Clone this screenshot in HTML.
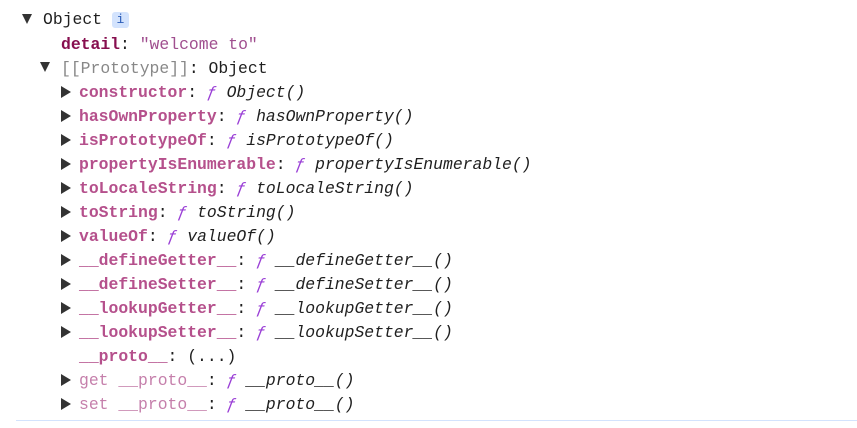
<!DOCTYPE html>
<html><head><style>
body{margin:0;width:857px;height:427px;background:#fff;overflow:hidden;font-family:"Liberation Mono",monospace;font-size:16.4px;color:#1f1f1f}
.w{position:absolute;left:0;top:1px;width:857px;height:427px}
.r{position:absolute;height:24px;line-height:24px;white-space:pre}
.t{position:absolute;width:0;height:0;border-left:5.5px solid transparent;border-right:5.5px solid transparent;border-top:10px solid #333}
.tr{position:absolute;width:0;height:0;border-top:6px solid transparent;border-bottom:6px solid transparent;border-left:10px solid #333}
.k{color:#b5508c;font-weight:bold}
.kd{color:#870f4f;font-weight:bold}
.g{color:#c57fab}
.f{color:#9a3fd6;font-style:italic}
.i{font-style:italic}
.s{color:#a04f8f}
.p{color:#888}
</style></head><body><div class="w">
<div class="t" style="left:22px;top:13px"></div>
<div class="r" style="left:43px;top:7px">Object <span style="display:inline-block;width:17px;height:16px;background:#d3e3fd;border-radius:3px;color:#2a5cb8;font-size:13px;line-height:16px;text-align:center;vertical-align:1px">i</span></div>
<div class="r" style="left:61px;top:32px"><span class="kd">detail</span>: <span class="s">"welcome to"</span></div>
<div class="t" style="left:40px;top:61px"></div>
<div class="r" style="left:61px;top:56px"><span class="p">[[Prototype]]</span>: Object</div>

<div class="tr" style="left:61px;top:85px"></div><div class="r" style="left:79px;top:80px"><span class="k">constructor</span>: <span class="f">ƒ</span> <span class="i">Object()</span></div>
<div class="tr" style="left:61px;top:109px"></div><div class="r" style="left:79px;top:104px"><span class="k">hasOwnProperty</span>: <span class="f">ƒ</span> <span class="i">hasOwnProperty()</span></div>
<div class="tr" style="left:61px;top:133px"></div><div class="r" style="left:79px;top:128px"><span class="k">isPrototypeOf</span>: <span class="f">ƒ</span> <span class="i">isPrototypeOf()</span></div>
<div class="tr" style="left:61px;top:157px"></div><div class="r" style="left:79px;top:152px"><span class="k">propertyIsEnumerable</span>: <span class="f">ƒ</span> <span class="i">propertyIsEnumerable()</span></div>
<div class="tr" style="left:61px;top:181px"></div><div class="r" style="left:79px;top:176px"><span class="k">toLocaleString</span>: <span class="f">ƒ</span> <span class="i">toLocaleString()</span></div>
<div class="tr" style="left:61px;top:205px"></div><div class="r" style="left:79px;top:200px"><span class="k">toString</span>: <span class="f">ƒ</span> <span class="i">toString()</span></div>
<div class="tr" style="left:61px;top:229px"></div><div class="r" style="left:79px;top:224px"><span class="k">valueOf</span>: <span class="f">ƒ</span> <span class="i">valueOf()</span></div>
<div class="tr" style="left:61px;top:253px"></div><div class="r" style="left:79px;top:248px"><span class="k">__defineGetter__</span>: <span class="f">ƒ</span> <span class="i">__defineGetter__()</span></div>
<div class="tr" style="left:61px;top:277px"></div><div class="r" style="left:79px;top:272px"><span class="k">__defineSetter__</span>: <span class="f">ƒ</span> <span class="i">__defineSetter__()</span></div>
<div class="tr" style="left:61px;top:301px"></div><div class="r" style="left:79px;top:296px"><span class="k">__lookupGetter__</span>: <span class="f">ƒ</span> <span class="i">__lookupGetter__()</span></div>
<div class="tr" style="left:61px;top:325px"></div><div class="r" style="left:79px;top:320px"><span class="k">__lookupSetter__</span>: <span class="f">ƒ</span> <span class="i">__lookupSetter__()</span></div>
<div class="r" style="left:79px;top:344px"><span class="k">__proto__</span>: (...)</div>
<div class="tr" style="left:61px;top:373px"></div><div class="r" style="left:79px;top:368px"><span class="g">get __proto__</span>: <span class="f">ƒ</span> <span class="i">__proto__()</span></div>
<div class="tr" style="left:61px;top:397px"></div><div class="r" style="left:79px;top:392px"><span class="g">set __proto__</span>: <span class="f">ƒ</span> <span class="i">__proto__()</span></div>
</div>
<div style="position:absolute;left:16px;top:420px;width:841px;height:1px;background:#d3e3fd"></div>
</body></html>
